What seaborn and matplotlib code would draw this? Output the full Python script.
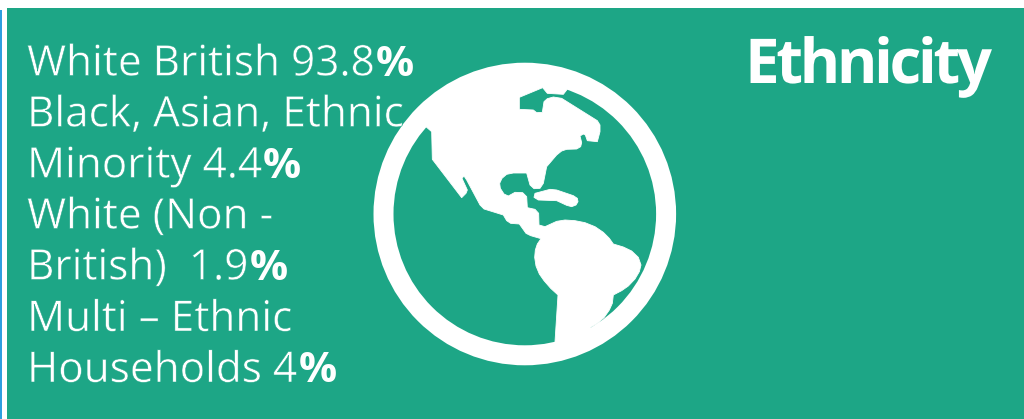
import matplotlib
matplotlib.use('Agg')
import matplotlib.pyplot as plt
import matplotlib.patheffects as pe
from matplotlib.patches import Circle, Polygon, Rectangle
from matplotlib.path import Path
from matplotlib.transforms import IdentityTransform
import numpy as np
import seaborn as sns

# Text lines, each one split into the plain part and the bold percent sign
title = 'Ethnicity'
line_text = ['White British 93.8', 'Black, Asian, Ethnic', 'Minority 4.4', 'White (Non -',
             'British)  1.9', 'Multi – Ethnic', 'Households 4']
line_bold = ['%', '', '%', '', '%', '', '%']
line_base = [75.5, 126.5, 177.5, 228.5, 279.5, 331, 382]

# Globe icon outline, traced in 3x crop pixels
land = [(200, 232), (215, 245), (217, 328), (305, 443), (318, 430), (322, 420), (306, 385), (312, 378),
        (320, 390), (360, 465), (372, 477), (430, 495), (440, 512), (452, 520), (478, 522), (498, 550),
        (512, 557), (543, 566), (532, 582), (526, 600), (524, 622), (528, 648), (538, 672), (552, 692),
        (572, 715), (594, 735), (585, 875), (590, 910), (690, 880), (690, 833), (712, 820), (732, 803),
        (748, 780), (757, 760), (760, 735), (785, 722), (805, 708), (825, 687), (838, 665), (843, 645),
        (835, 622), (815, 603), (790, 591), (760, 582), (748, 565), (730, 547), (705, 530), (675, 518),
        (645, 512), (615, 510), (590, 514), (555, 530), (537, 525), (536, 490), (525, 478), (502, 473),
        (500, 440), (488, 428), (465, 427), (445, 438), (432, 432), (421, 415), (419, 400), (426, 385),
        (440, 373), (460, 369), (500, 369), (510, 405), (522, 416), (540, 415), (550, 400), (560, 350),
        (590, 315), (605, 303), (620, 298), (650, 297), (662, 290), (665, 278), (660, 258), (670, 252),
        (676, 255), (682, 272), (712, 275), (720, 245), (720, 225), (712, 212), (605, 145), (580, 141),
        (562, 146), (552, 155), (547, 187), (530, 188), (520, 180), (478, 178), (478, 142), (548, 113),
        (562, 130), (610, 133), (620, 120), (640, 80), (494, 60), (300, 100), (170, 190)]
island = [(525, 430), (570, 418), (590, 420), (640, 437), (652, 445), (654, 455), (648, 465), (635, 470),
          (620, 466), (590, 452), (535, 450), (522, 442)]

green = '#1DA686'


class Tracking(pe.AbstractPathEffect):
    # pulls the glyphs of one text closer, matplotlib has no letter spacing of its own
    def __init__(self, track):
        super().__init__()
        self.track = track

    def draw_path(self, renderer, gc, tpath, affine, rgbFace=None):
        verts = affine.transform(tpath.vertices)
        codes = tpath.codes
        starts = list(np.flatnonzero(codes == Path.MOVETO)) + [len(codes)]
        contours = []
        for a, b in zip(starts[:-1], starts[1:]):
            xs = verts[a:b][codes[a:b] != Path.CLOSEPOLY, 0]
            contours.append((xs.min(), xs.max(), a, b))
        # contours that share an x range belong to one glyph (the dot of an i)
        glyph = -1
        right = -np.inf
        out = verts.copy()
        for x0, x1, a, b in sorted(contours):
            if x0 > right:
                glyph += 1
            right = max(right, x1)
            out[a:b, 0] += glyph * self.track
        renderer.draw_path(gc, Path(out, codes), IdentityTransform(), rgbFace)


sns.set_theme(style='white')
plt.rcParams['font.family'] = ['Open Sans', 'DejaVu Sans']

fig = plt.figure(figsize=(10.24, 4.19), dpi=100)
ax = fig.add_axes([0, 0, 1, 1])
ax.set_xlim(0, 1024)
ax.set_ylim(419, 0)
ax.axis('off')

# Panel and the thin blue strip on the left
ax.add_patch(Rectangle((7, 8), 1017, 411, color=green, lw=0))
ax.add_patch(Rectangle((0, 10), 2, 409, color='#2E9FDF', lw=0))

# Ring and continents
ax.add_patch(Circle((524.8, 214), 151.3, color='white', lw=0))
ax.add_patch(Circle((524.8, 214), 131.3, color=green, lw=0))
for shape in [land, island]:
    pts = [(360 + x / 3, 50 + y / 3) for x, y in shape]
    ax.add_patch(Polygon(pts, closed=True, fc='white', ec='white', lw=0.6, joinstyle='round'))

renderer = fig.canvas.get_renderer()

# Left text, bold percent goes straight after the plain part
# a thin green edge brings the strokes down to the weight of the reference
thin = [pe.Stroke(linewidth=0.35, foreground=green)]
for txt, bold, y in zip(line_text, line_bold, line_base):
    t = ax.text(27, y, txt, color='white', fontsize=30.5, fontweight='normal', va='baseline', ha='left',
                path_effects=thin)
    if bold:
        end = t.get_window_extent(renderer).x1
        ax.text(end + 1, y, bold, color='white', fontsize=30.5, fontweight='bold', va='baseline', ha='left')

ax.text(745, 83, title, color='white', fontsize=44.5, fontweight='bold', va='baseline', ha='left',
        path_effects=[Tracking(-3.4)])

fig.savefig('out.png', dpi=100)
